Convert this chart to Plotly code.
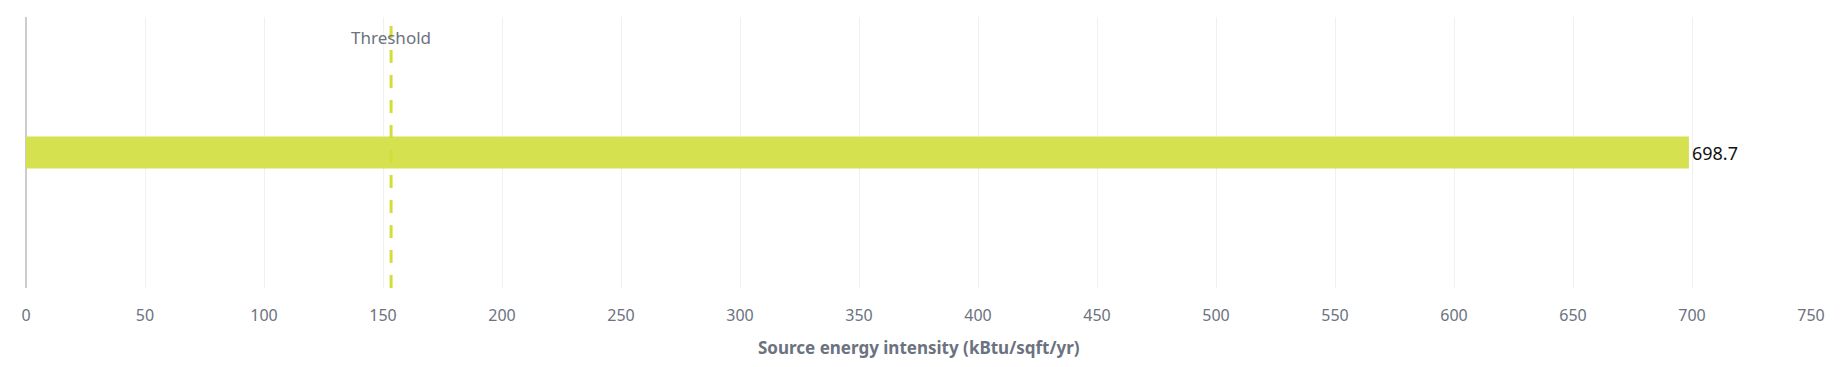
import plotly.graph_objects as go

categories = ["Building"]
values = [698.7]
threshold_value = 153.4
threshold_label = "Threshold"
tick_vals = [0, 50, 100, 150, 200, 250, 300, 350, 400, 450, 500, 550, 600, 650, 700, 750]
x_title = "Source energy intensity (kBtu/sqft/yr)"

BAR = "#d6e14f"
GRAY = "#6b7280"
FONT = "Noto Sans"

# page has an 8px body margin; plot area in page px: x 26..1811, y 17..288
W, H = 1828, 351
PLOT_TOP, PLOT_BOT = 17, 288
PH = PLOT_BOT - PLOT_TOP

def py(page_y):
    return (PLOT_BOT - page_y) / PH

fig = go.Figure()
fig.add_trace(go.Bar(
    x=values, y=categories, orientation="h",
    marker=dict(color=BAR, line=dict(width=0)),
    width=0.118,
    text=[f"{v:.1f}" for v in values], textposition="outside",
    textfont=dict(family=FONT, size=18, color="#111111"),
    cliponaxis=False,
))

fig.add_shape(type="line", xref="x", yref="paper",
              x0=threshold_value, x1=threshold_value, y0=0, y1=py(26),
              line=dict(color="#d2dd3c", width=3, dash="13px,12px"), layer="above")
fig.add_annotation(x=threshold_value, xref="x", y=py(37), yref="paper",
                   yanchor="middle", text=threshold_label, showarrow=False,
                   font=dict(family=FONT, size=17, color=GRAY))
fig.add_annotation(x=0.5, xref="paper", y=py(347), yref="paper",
                   yanchor="middle", text=f"<b>{x_title}</b>", showarrow=False,
                   font=dict(family=FONT, size=17, color=GRAY))

fig.update_layout(
    width=W, height=H,
    margin=dict(l=18, r=25, t=9, b=71, autoexpand=False),
    plot_bgcolor="white", paper_bgcolor="white",
    showlegend=False,
    font=dict(family=FONT, color=GRAY),
    xaxis=dict(range=[0, 750], tickvals=tick_vals, showgrid=True,
               gridcolor="#f0f0f0", gridwidth=1, zeroline=True,
               zerolinecolor="#cccccc", zerolinewidth=2,
               tickfont=dict(family=FONT, size=16, color=GRAY),
               ticks="", ticklabelstandoff=16, fixedrange=True),
    yaxis=dict(range=[-0.5, 0.5], showticklabels=False, showgrid=False,
               zeroline=False, fixedrange=True),
)

fig.write_html("out.html")
